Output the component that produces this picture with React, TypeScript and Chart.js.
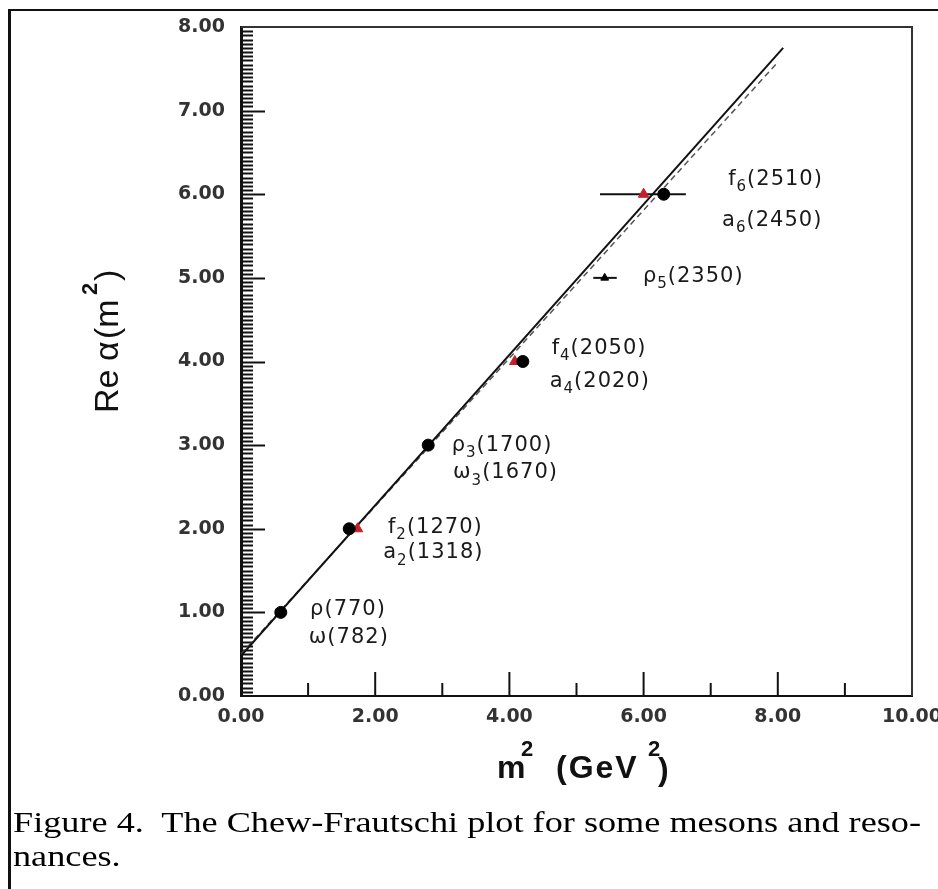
import React, { useEffect, useRef } from 'react';
import { Chart, registerables } from 'chart.js';

Chart.register(...registerables);

// ---- data ----
const xTickValues = [0, 2, 4, 6, 8, 10];
const xMinorTicks = [1, 3, 5, 7, 9];
const yMinorStep = 0.05;

const fMesonX = [0.593, 1.613, 2.79, 4.2, 6.3];
const fMesonY = [1, 2, 3, 4, 6];
const aMesonX = [1.737, 4.08, 6.0];
const aMesonY = [2, 4, 6];
const rho5X = [5.42];
const rho5Y = [5];

const errorBarY = [6, 5];
const errorBarLow = [5.35, 5.25];
const errorBarHigh = [6.63, 5.6];

const solidFitX = [0, 8.08];
const solidFitY = [0.48, 7.75];
const dashedFitX = [0, 8.0];
const dashedFitY = [0.5, 7.58];

const labelBase = ['ρ', 'ω', 'f', 'a', 'ρ', 'ω', 'f', 'a', 'ρ', 'f', 'a'];
const labelSub = ['', '', '2', '2', '3', '3', '4', '4', '5', '6', '6'];
const labelRest = ['(770)', '(782)', '(1270)', '(1318)', '(1700)', '(1670)', '(2050)', '(2020)', '(2350)', '(2510)', '(2450)'];
const labelX = [1.03, 1.01, 2.19, 2.12, 3.14, 3.16, 4.63, 4.6, 5.99, 7.26, 7.17];
const labelY = [1.03, 0.7, 2.02, 1.71, 3.0, 2.67, 4.16, 3.76, 5.02, 6.18, 5.69];

const captionLine1 = 'Figure 4.  The Chew-Frautschi plot for some mesons and reso-';
const captionLine2 = 'nances.';

const pts = (xs: number[], ys: number[]) => xs.map((x, i) => ({ x, y: ys[i] }));

const decorPlugin = {
  id: 'decor',
  beforeDatasetsDraw(chart: any) {
    const { ctx, chartArea: a, scales } = chart;
    const xs = scales.x;
    const ys = scales.y;
    ctx.save();
    // top and right frame of plot
    ctx.strokeStyle = '#333';
    ctx.lineWidth = 2;
    ctx.beginPath();
    ctx.moveTo(a.left, a.top);
    ctx.lineTo(a.right, a.top);
    ctx.lineTo(a.right, a.bottom);
    ctx.stroke();
    // y ticks (inward)
    ctx.strokeStyle = '#111';
    const n = Math.round(8 / yMinorStep);
    for (let i = 1; i < n; i++) {
      const v = i * yMinorStep;
      const py = Math.round(ys.getPixelForValue(v)) + 0.5;
      const major = i % 20 === 0;
      ctx.lineWidth = 2;
      ctx.beginPath();
      ctx.moveTo(a.left, py);
      ctx.lineTo(a.left + (major ? 24 : 12), py);
      ctx.stroke();
    }
    // x ticks (inward)
    ctx.lineWidth = 2;
    xTickValues.forEach((v) => {
      if (v === 0 || v === 10) return;
      const px = xs.getPixelForValue(v);
      ctx.beginPath();
      ctx.moveTo(px, a.bottom);
      ctx.lineTo(px, a.bottom - 24);
      ctx.stroke();
    });
    xMinorTicks.forEach((v) => {
      const px = xs.getPixelForValue(v);
      ctx.beginPath();
      ctx.moveTo(px, a.bottom);
      ctx.lineTo(px, a.bottom - 13);
      ctx.stroke();
    });
    // error bars
    ctx.strokeStyle = '#111';
    ctx.lineWidth = 2;
    errorBarY.forEach((yv, i) => {
      const py = ys.getPixelForValue(yv);
      ctx.beginPath();
      ctx.moveTo(xs.getPixelForValue(errorBarLow[i]), py);
      ctx.lineTo(xs.getPixelForValue(errorBarHigh[i]), py);
      ctx.stroke();
    });
    ctx.restore();
  },
  afterDraw(chart: any) {
    const { ctx, scales } = chart;
    const xs = scales.x;
    const ys = scales.y;
    ctx.save();
    ctx.fillStyle = '#1a1a1a';
    // annotation labels
    labelBase.forEach((b, i) => {
      const px = xs.getPixelForValue(labelX[i]);
      const py = ys.getPixelForValue(labelY[i]);
      ctx.textBaseline = 'middle';
      ctx.textAlign = 'left';
      (ctx as any).letterSpacing = '1px';
      ctx.font = '21px "DejaVu Sans"';
      ctx.fillText(b, px, py);
      let w = ctx.measureText(b).width;
      if (labelSub[i]) {
        ctx.font = '15px "DejaVu Sans"';
        ctx.fillText(labelSub[i], px + w, py + 8);
        w += ctx.measureText(labelSub[i]).width;
      }
      ctx.font = '21px "DejaVu Sans"';
      ctx.fillText(labelRest[i], px + w, py);
    });
    (ctx as any).letterSpacing = '0px';

    // x axis title
    ctx.fillStyle = '#111';
    ctx.textBaseline = 'alphabetic';
    ctx.font = 'bold 32px "Liberation Sans"';
    ctx.fillText('m', 497, 778);
    ctx.font = 'bold 22px "Liberation Sans"';
    ctx.fillText('2', 521, 756);
    (ctx as any).letterSpacing = '2px';
    ctx.font = 'bold 32px "Liberation Sans"';
    ctx.fillText('(GeV', 556, 778);
    (ctx as any).letterSpacing = '0px';
    ctx.font = 'bold 22px "Liberation Sans"';
    ctx.fillText('2', 648, 756);
    ctx.font = 'bold 32px "Liberation Sans"';
    ctx.fillText(')', 658, 780);

    // y axis title (rotated)
    ctx.translate(118, 413);
    ctx.rotate(-Math.PI / 2);
    ctx.font = '34px "Liberation Sans"';
    ctx.fillText('Re', 0, 0);
    ctx.fillText('α', 52, 0);
    ctx.fillText('(m', 74, 0);
    ctx.font = 'bold 22px "Liberation Sans"';
    ctx.fillText('2', 118, -21);
    ctx.font = '34px "Liberation Sans"';
    ctx.fillText(')', 132, 0);
    ctx.restore();
  },
};

export default function App() {
  const canvasRef = useRef<HTMLCanvasElement>(null);
  const cap1 = useRef<HTMLDivElement>(null);
  const cap2 = useRef<HTMLDivElement>(null);

  useEffect(() => {
    if (!canvasRef.current) return;
    const tickFont = { family: '"DejaVu Sans"', size: 19, weight: 'bold' };
    const chart = new Chart(canvasRef.current, {
      type: 'scatter',
      data: {
        datasets: [
          {
            type: 'line',
            data: pts(solidFitX, solidFitY),
            borderColor: '#111',
            borderWidth: 2,
            pointRadius: 0,
            order: 3,
          },
          {
            type: 'line',
            data: pts(dashedFitX, dashedFitY),
            borderColor: '#555',
            borderWidth: 1.5,
            borderDash: [6, 4],
            pointRadius: 0,
            order: 4,
          },
          {
            data: pts(fMesonX, fMesonY),
            backgroundColor: '#000',
            borderColor: '#000',
            pointRadius: 6,
            pointStyle: 'circle',
            order: 1,
          },
          {
            data: pts(aMesonX, aMesonY),
            backgroundColor: '#c41f2a',
            borderColor: '#c41f2a',
            pointRadius: 6,
            pointStyle: 'triangle',
            order: 2,
          },
          {
            data: pts(rho5X, rho5Y),
            backgroundColor: '#000',
            borderColor: '#000',
            pointRadius: 4.5,
            pointStyle: 'triangle',
            order: 1,
          },
        ] as any,
      },
      options: {
        animation: false,
        responsive: false,
        devicePixelRatio: 1,
        layout: { padding: { left: 0, top: 27, right: 26, bottom: 0 } },
        plugins: { legend: { display: false }, tooltip: { enabled: false } },
        scales: {
          x: {
            type: 'linear',
            min: 0,
            max: 10,
            ticks: {
              stepSize: 2,
              autoSkip: false,
              maxRotation: 0,
              padding: 10,
              color: '#333',
              font: tickFont,
              callback: (v: any) => Number(v).toFixed(2),
            },
            grid: { drawOnChartArea: false, drawTicks: false },
            border: { color: '#111', width: 2 },
            afterFit: (s: any) => {
              s.height = 193;
              s.paddingLeft = 0;
              s.paddingRight = 0;
            },
          },
          y: {
            type: 'linear',
            min: 0,
            max: 8,
            ticks: {
              stepSize: 1,
              autoSkip: false,
              padding: 16,
              color: '#333',
              font: tickFont,
              callback: (v: any) => Number(v).toFixed(2),
            },
            grid: { drawOnChartArea: false, drawTicks: false },
            border: { color: '#111', width: 3 },
            afterFit: (s: any) => {
              s.width = 241;
              s.paddingTop = 0;
              s.paddingBottom = 0;
            },
          },
        },
      } as any,
      plugins: [decorPlugin],
    });

    // stretch caption to match reference width
    if (cap1.current && cap2.current) {
      const w = cap1.current.getBoundingClientRect().width;
      const k = w > 0 ? 908 / w : 1;
      cap1.current.style.transform = `scaleX(${k})`;
      cap2.current.style.transform = `scaleX(${k})`;
    }

    return () => chart.destroy();
  }, []);

  const capStyle: React.CSSProperties = {
    position: 'absolute',
    left: 13,
    fontFamily: '"Liberation Serif", serif',
    fontSize: 29,
    lineHeight: '34px',
    whiteSpace: 'pre',
    color: '#000',
    transformOrigin: 'left top',
    display: 'inline-block',
  };

  return (
    <div style={{ position: 'absolute', left: 0, top: 0, width: 938, height: 889, background: '#fff', overflow: 'hidden' }}>
      <div style={{ position: 'absolute', left: 8, top: 9, width: 940, height: 900, borderTop: '2px solid #111', borderLeft: '3px solid #111' }} />
      <canvas ref={canvasRef} width={938} height={889} style={{ position: 'absolute', left: 0, top: 0 }} />
      <div ref={cap1} style={{ ...capStyle, top: 805 }}>{captionLine1}</div>
      <div ref={cap2} style={{ ...capStyle, top: 839 }}>{captionLine2}</div>
    </div>
  );
}
